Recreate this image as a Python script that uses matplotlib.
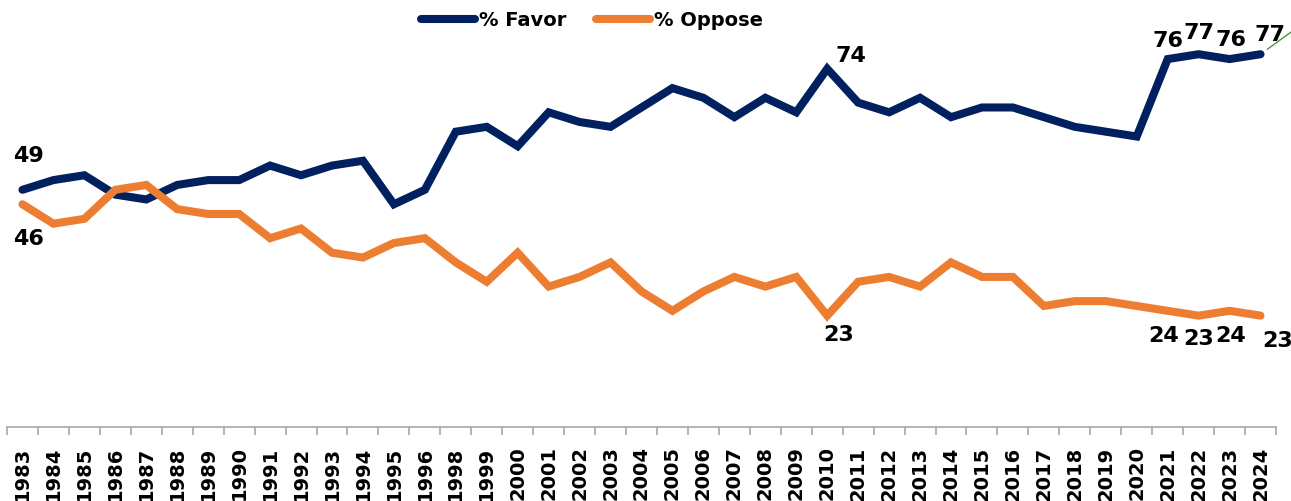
import matplotlib
matplotlib.use("Agg")
import matplotlib.pyplot as plt
from matplotlib.ticker import FixedLocator

# Data (1997 is absent in the source)
years = [
    "1983", "1984", "1985", "1986", "1987", "1988", "1989", "1990", "1991",
    "1992", "1993", "1994", "1995", "1996", "1998", "1999", "2000", "2001",
    "2002", "2003", "2004", "2005", "2006", "2007", "2008", "2009", "2010",
    "2011", "2012", "2013", "2014", "2015", "2016", "2017", "2018", "2019",
    "2020", "2021", "2022", "2023", "2024",
]
favor = [
    49, 51, 52, 48, 47, 50, 51, 51, 54, 52, 54, 55, 46, 49, 61, 62, 58, 65,
    63, 62, 66, 70, 68, 64, 68, 65, 74, 67, 65, 68, 64, 66, 66, 64, 62, 61,
    60, 76, 77, 76, 77,
]
oppose = [
    46, 42, 43, 49, 50, 45, 44, 44, 39, 41, 36, 35, 38, 39, 34, 30, 36, 29,
    31, 34, 28, 24, 28, 31, 29, 31, 23, 30, 31, 29, 34, 31, 31, 25, 26, 26,
    25, 24, 23, 24, 23,
]

# which points get a value label, with offset (points) from the point
favor_labels = {"1983": (4, 24), "2010": (17, 9), "2021": (0, 13),
                "2022": (0, 15), "2023": (1, 14), "2024": (7, 14)}
oppose_labels = {"1983": (4, -25), "2010": (8, -14), "2021": (-3, -18),
                 "2022": (0, -17), "2023": (1, -18), "2024": (12, -18)}

NAVY = "#002060"
ORANGE = "#ED7D31"

fig = plt.figure(figsize=(12.91, 5.01), dpi=100)
ax = fig.add_axes([7 / 1291, 1 - 427 / 501, 1269 / 1291, 427 / 501])

x = list(range(len(years)))
ax.plot(x, favor, color=NAVY, lw=5.8, solid_capstyle="round",
        solid_joinstyle="miter", label="% Favor")
ax.plot(x, oppose, color=ORANGE, lw=5.8, solid_capstyle="round",
        solid_joinstyle="miter", label="% Oppose")

for series, labels in ((favor, favor_labels), (oppose, oppose_labels)):
    for yr, off in labels.items():
        i = years.index(yr)
        ax.annotate(str(series[i]), (i, series[i]), xytext=off,
                    textcoords="offset points", ha="center", va="center",
                    fontsize=16, fontweight="bold", color="black",
                    annotation_clip=False)

# small green leader line at the right edge
last = len(years) - 1
ax.annotate("", xy=(last, favor[last]), xytext=(22, 16),
            textcoords="offset points", annotation_clip=False,
            arrowprops=dict(arrowstyle="-", color="#4E9A3A", lw=1,
                            shrinkA=0, shrinkB=6))

ax.set_xlim(-0.5, len(years) - 0.5)
ax.set_ylim(0, 88.2)
ax.set_xticks(x)
ax.set_xticklabels(years, rotation=90, fontsize=14, fontweight="bold")
ax.xaxis.set_minor_locator(FixedLocator([i - 0.5 for i in range(len(years) + 1)]))
ax.tick_params(axis="x", which="major", length=0, pad=14)
ax.tick_params(axis="x", which="minor", length=6, width=1.1, color="#a0a0a0")
ax.set_yticks([])
for side in ("left", "right", "top"):
    ax.spines[side].set_visible(False)
ax.spines["bottom"].set_color("#a0a0a0")
ax.spines["bottom"].set_linewidth(1.1)

leg = ax.legend(loc="center", bbox_to_anchor=(0.461, 0.953), ncol=2,
                frameon=False, handlelength=2.8, handletextpad=0.2,
                columnspacing=1.5, prop={"size": 14, "weight": "bold"})

fig.savefig("out.png", dpi=100)
